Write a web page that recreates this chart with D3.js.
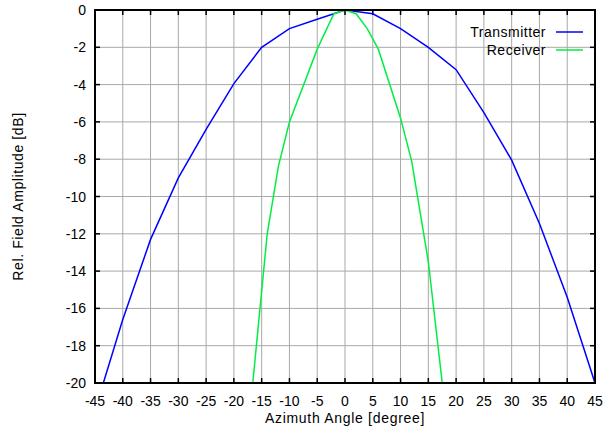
<!DOCTYPE html>
<html>
<head>
<meta charset="utf-8">
<script src="https://cdn.jsdelivr.net/npm/d3@7"></script>
<style>
  body { margin: 0; background: #fff; }
  text { font-family: "Liberation Sans", Arial, sans-serif; }
</style>
</head>
<body>
<script>
// angle [deg] and rel. field amplitude [dB]
const txAngle = [-43.5, -40, -35, -30, -25, -20, -15, -10, -5, 0, 5, 10, 15, 20, 25, 30, 35, 40, 45];
const txLevel = [-20, -16.6, -12.3, -9, -6.4, -3.95, -2, -1, -0.5, 0, -0.2, -1, -2, -3.2, -5.5, -8.05, -11.45, -15.4, -20];

const rxAngle = [-16.6, -14, -12, -10, -5, -2, 0, 2, 4, 6, 10, 12, 15, 17.5];
const rxLevel = [-20, -12, -8.4, -6, -2.1, -0.2, 0, -0.2, -1, -2.1, -5.8, -8.1, -13.5, -20];

const xTicks = d3.range(-45, 46, 5);
const yTicks = d3.range(-20, 1, 2);

const seriesNames = ["Transmitter", "Receiver"];
const seriesColors = ["#0000ff", "#00ee44"];

const width = 603, height = 432;
const margin = { top: 10, right: 8, bottom: 49, left: 95 };

const svg = d3.select("body").append("svg")
    .attr("width", width)
    .attr("height", height);

const x = d3.scaleLinear().domain([-45, 45]).range([margin.left, width - margin.right]);
const y = d3.scaleLinear().domain([-20, 0]).range([height - margin.bottom, margin.top]);

// grid
const grid = svg.append("g").attr("stroke", "#a8a8a8").attr("stroke-width", 1);
grid.selectAll(".gx").data(xTicks.slice(1, -1)).join("line")
    .attr("x1", d => x(d)).attr("x2", d => x(d))
    .attr("y1", y(0)).attr("y2", y(-20));
grid.selectAll(".gy").data(yTicks.slice(1, -1)).join("line")
    .attr("y1", d => y(d)).attr("y2", d => y(d))
    .attr("x1", x(-45)).attr("x2", x(45));

// inward ticks on all four sides
const tickLen = 5;
const ticks = svg.append("g").attr("stroke", "#000").attr("stroke-width", 1.5);
xTicks.forEach(d => {
    ticks.append("line").attr("x1", x(d)).attr("x2", x(d)).attr("y1", y(-20)).attr("y2", y(-20) - tickLen);
    ticks.append("line").attr("x1", x(d)).attr("x2", x(d)).attr("y1", y(0)).attr("y2", y(0) + tickLen);
});
yTicks.forEach(d => {
    ticks.append("line").attr("y1", y(d)).attr("y2", y(d)).attr("x1", x(-45)).attr("x2", x(-45) + tickLen);
    ticks.append("line").attr("y1", y(d)).attr("y2", y(d)).attr("x1", x(45)).attr("x2", x(45) - tickLen);
});

// tick labels
svg.append("g").selectAll("text").data(xTicks).join("text")
    .attr("x", d => x(d))
    .attr("y", y(-20) + 23)
    .attr("text-anchor", "middle")
    .attr("font-size", 14)
    .text(d => d);

svg.append("g").selectAll("text").data(yTicks).join("text")
    .attr("x", x(-45) - 9)
    .attr("y", d => y(d) + 5)
    .attr("text-anchor", "end")
    .attr("font-size", 14)
    .text(d => d);

// axis titles
svg.append("text")
    .attr("x", (x(-45) + x(45)) / 2)
    .attr("y", 423)
    .attr("text-anchor", "middle")
    .attr("font-size", 14)
    .attr("letter-spacing", 0.7)
    .text("Azimuth Angle [degree]");

svg.append("text")
    .attr("transform", `translate(23,${(y(0) + y(-20)) / 2}) rotate(-90)`)
    .attr("text-anchor", "middle")
    .attr("font-size", 14)
    .attr("letter-spacing", 0.6)
    .text("Rel. Field Amplitude [dB]");

// curves
const line = d3.line().x(d => x(d[0])).y(d => y(d[1]));
const series = [
    d3.zip(txAngle, txLevel),
    d3.zip(rxAngle, rxLevel)
];

const plot = svg.append("g");
series.forEach((s, i) => {
    plot.append("path")
        .datum(s)
        .attr("fill", "none")
        .attr("stroke", seriesColors[i])
        .attr("stroke-width", 1.5)
        .attr("d", line);
});

// frame
svg.append("rect")
    .attr("x", x(-45)).attr("y", y(0))
    .attr("width", x(45) - x(-45)).attr("height", y(-20) - y(0))
    .attr("fill", "none")
    .attr("stroke", "#000")
    .attr("stroke-width", 2);

// legend
const legend = svg.append("g");
seriesNames.forEach((name, i) => {
    const ly = 32 + i * 18;
    legend.append("text")
        .attr("x", 546).attr("y", ly + 5)
        .attr("text-anchor", "end")
        .attr("font-size", 14)
        .attr("letter-spacing", 0.5)
        .text(name);
    legend.append("line")
        .attr("x1", 556).attr("x2", 583)
        .attr("y1", ly).attr("y2", ly)
        .attr("stroke", seriesColors[i])
        .attr("stroke-width", 1.5);
});
</script>
</body>
</html>
